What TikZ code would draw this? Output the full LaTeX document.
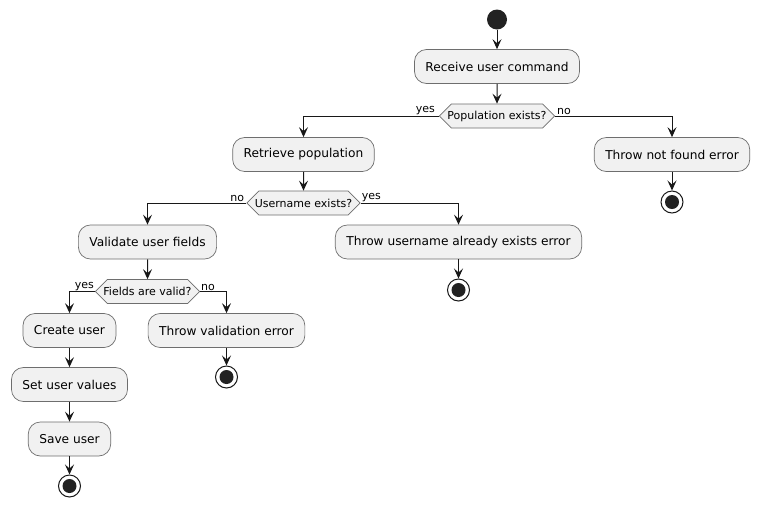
\documentclass[tikz,border=0pt]{standalone}
\usepackage{fontspec}
\setmainfont{DejaVu Sans}
\usetikzlibrary{arrows.meta,shapes.symbols}
\definecolor{linec}{HTML}{181818}
\definecolor{boxfill}{HTML}{F1F1F1}
\definecolor{boxline}{HTML}{6E6E6E}
\definecolor{dotc}{HTML}{222222}
\tikzset{
  act/.style={draw=boxline, line width=0.7pt, fill=boxfill, rounded corners=12pt,
    minimum height=34pt, inner xsep=11pt, font=\fontsize{12.2}{14}\selectfont},
  dec/.style={draw=boxline, line width=0.7pt, fill=boxfill, signal, signal to=west and east,
    signal pointer angle=90, minimum height=24pt, inner xsep=-4pt, inner ysep=2pt,
    font=\fontsize{11}{12}\selectfont},
  arr/.style={draw=linec, line width=1pt, -{Stealth[length=10pt,width=9pt,inset=4pt]}},
  lbl/.style={font=\fontsize{11}{12}\selectfont, inner sep=1pt},
  startc/.style={circle, fill=dotc, minimum size=20pt, inner sep=0pt},
  endc/.style={circle, draw=linec, line width=1pt, fill=white, minimum size=22pt, inner sep=0pt},
  endin/.style={circle, fill=dotc, minimum size=14pt, inner sep=0pt}
}
\begin{document}
\begin{tikzpicture}[x=1pt,y=-1pt]
\useasboundingbox[fill=white] (0,0) rectangle (760,507);
% nodes
\node[startc] (start) at (497,19.5) {};
\node[act] (recv) at (497,66.5) {Receive user command};
\node[dec] (d1) at (497,116) {Population exists?};
\node[act] (retr) at (303.5,154.5) {Retrieve population};
\node[act] (nf) at (672,154.5) {Throw not found error};
\node[endc] (e1) at (672,202) {};
\node[endin] at (e1) {};
\node[dec] (d2) at (303.5,203) {Username exists?};
\node[act] (val) at (147.5,242) {Validate user fields};
\node[act] (ex) at (458.5,242) {Throw username already exists error};
\node[endc] (e2) at (458.5,290) {};
\node[endin] at (e2) {};
\node[dec] (d3) at (147.5,291.5) {Fields are valid?};
\node[act] (cu) at (69.5,330.5) {Create user};
\node[act] (tv) at (226.5,330.5) {Throw validation error};
\node[endc] (e3) at (226.5,377) {};
\node[endin] at (e3) {};
\node[act] (sv) at (69.5,384.5) {Set user values};
\node[act] (su) at (69.5,439) {Save user};
\node[endc] (e4) at (69.5,486) {};
\node[endin] at (e4) {};
% connectors
\draw[arr] (start) -- (recv);
\draw[arr] (recv) -- (d1);
\draw[arr] (d1.west) -| (retr);
\draw[arr] (d1.east) -| (nf);
\draw[arr] (nf) -- (e1);
\draw[arr] (retr) -- (d2);
\draw[arr] (d2.west) -| (val);
\draw[arr] (d2.east) -| (ex);
\draw[arr] (ex) -- (e2);
\draw[arr] (val) -- (d3);
\draw[arr] (d3.west) -| (cu);
\draw[arr] (d3.east) -| (tv);
\draw[arr] (tv) -- (e3);
\draw[arr] (cu) -- (sv);
\draw[arr] (sv) -- (su);
\draw[arr] (su) -- (e4);
% labels
\node[lbl, anchor=south east] at ([xshift=-3pt]d1.west) {yes};
\node[lbl, anchor=south west] at ([xshift=1pt]d1.east) {no};
\node[lbl, anchor=south east] at ([xshift=-1pt]d2.west) {no};
\node[lbl, anchor=south west] at ([xshift=0pt]d2.east) {yes};
\node[lbl, anchor=south east] at ([xshift=0pt]d3.west) {yes};
\node[lbl, anchor=south west] at ([xshift=0pt]d3.east) {no};
\end{tikzpicture}
\end{document}
